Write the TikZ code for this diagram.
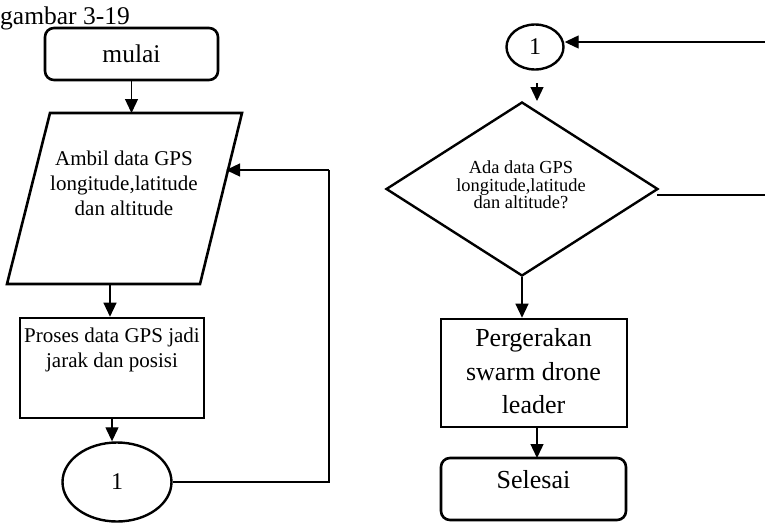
\documentclass[tikz,border=0pt]{standalone}
\usepackage{fontspec}
\setmainfont{Liberation Serif}
\usetikzlibrary{arrows.meta,shapes.geometric}
\begin{document}
\begin{tikzpicture}[x=1pt,y=-1pt,
  outline/.style={draw,line width=2.6pt,inner sep=0pt},
  terminal/.style={outline,rectangle,rounded corners=9pt},
  procbox/.style={outline,rectangle},
  connector/.style={outline,ellipse,line width=2.4pt},
  decision/.style={outline,diamond,line width=2.4pt},
  flow/.style={line width=1.3pt,-{Triangle[length=14pt,width=13pt]}},
  link/.style={line width=1.3pt},
  txt/.style={align=center,inner sep=0pt}]
\useasboundingbox (0,0) rectangle (765,522);

% caption
\node[anchor=base west,inner sep=0pt,font=\fontsize{25.5}{28}\selectfont] (cap) at (0,24) {gambar 3-19};

% ---------- left column ----------
\node[terminal,minimum width=173pt,minimum height=52pt,font=\fontsize{25.5}{28}\selectfont] (start) at (131.5,54) {mulai};

% input parallelogram
\coordinate (pTL) at (50,113);
\coordinate (pTR) at (242,113);
\coordinate (pBR) at (200,284);
\coordinate (pBL) at (7,284);
\draw[line width=2.6pt,line join=miter] (pTL) -- (pTR) -- (pBR) -- (pBL) -- cycle;
\node[txt,font=\fontsize{21}{25}\selectfont] (intxt) at (124,183) {Ambil data GPS\\longitude,latitude\\dan altitude};
\coordinate (pTop) at (131.5,113);
\coordinate (pBot) at (110,284);
\coordinate (pRight) at (226,170);

\node[procbox,minimum width=184pt,minimum height=100pt] (proc) at (112,368) {};
\node[txt,font=\fontsize{21}{25}\selectfont] (proctxt) at (112,349.5) {Proses data GPS jadi\\jarak dan posisi};

\node[connector,minimum width=109pt,minimum height=79pt,font=\fontsize{24}{26}\selectfont] (offA) at (117,482) {1};

% loop back line
\coordinate (loopB) at (329,482);
\coordinate (loopT) at (329,170);

\draw[flow] (start.south) -- (pTop);
\draw[flow] (pBot) -- (pBot |- proc.north);
\draw[flow] (proc.south) -- (proc.south |- offA.north);
\draw[link] (offA.east) -- (loopB) -- (loopT);
\draw[flow] (loopT) -- (pRight);

% ---------- right column ----------
\node[connector,minimum width=57pt,minimum height=45pt,font=\fontsize{24}{26}\selectfont] (offB) at (535,47) {1};
\coordinate (inB) at (766,42);
\draw[flow] (inB) -- (offB.east |- inB);

\coordinate (arrS) at (537,83);
\coordinate (arrE) at (537,101);
\draw[flow] (arrS) -- (arrE);

\node[decision,minimum width=272pt,minimum height=174pt,aspect=1.563] (dec) at (522,189) {};
\node[txt,font=\fontsize{18.4}{17.5}\selectfont] (dectxt) at (521,185) {Ada data GPS\\longitude,latitude\\dan altitude?};
\coordinate (decR) at (657,195);
\coordinate (outR) at (766,195);
\draw[link] (decR) -- (outR);

\node[procbox,minimum width=186pt,minimum height=108pt] (move) at (534,373) {};
\node[txt,font=\fontsize{26}{33.5}\selectfont] (movetxt) at (533.5,371.5) {Pergerakan\\swarm drone\\leader};

\node[terminal,minimum width=185pt,minimum height=62pt] (stop) at (533.5,489) {};
\node[txt,font=\fontsize{26}{28}\selectfont] (stoptxt) at (533.5,480) {Selesai};

\draw[flow] (dec.south) -- (dec.south |- move.north);
\draw[flow] (537,427) -- (537,458);
\end{tikzpicture}
\end{document}
